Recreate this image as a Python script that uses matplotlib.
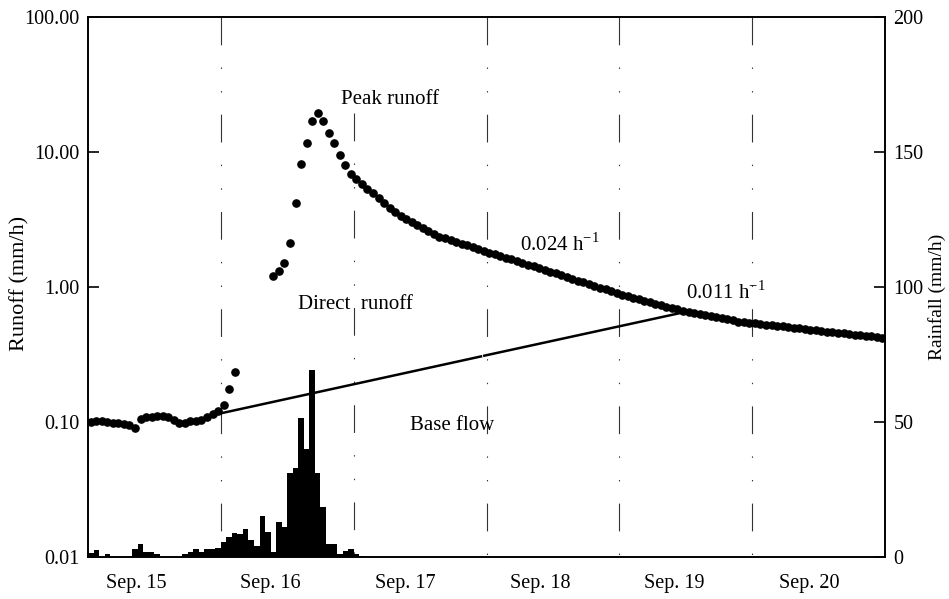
import numpy as np
import matplotlib
matplotlib.use('Agg')
import matplotlib.pyplot as plt

plt.rcParams['font.family'] = 'Liberation Serif'
plt.rcParams['mathtext.fontset'] = 'custom'
plt.rcParams['mathtext.rm'] = 'Liberation Serif'
plt.rcParams['lines.scale_dashes'] = False

nan = np.nan

# hourly runoff (mm/h), hour 0 = left edge of the plot
runoff = [
    0.100, 0.101, 0.101, 0.100, 0.099, 0.098, 0.097, 0.095, 0.091, 0.105,
    0.108, 0.108, 0.110, 0.110, 0.109, 0.104, 0.099, 0.099, 0.101, 0.102,
    0.104, 0.108, 0.114, 0.120, 0.134, 0.176, 0.236, nan, nan, nan,
    nan, nan, nan, 1.20, 1.32, 1.51, 2.13, 4.16, 8.1, 11.7,
    17.0, 19.5, 17.0, 13.8, 11.6, 9.5, 8.0, 6.9, 6.3, 5.79,
    5.34, 4.93, 4.55, 4.20, 3.87, 3.58, 3.38, 3.21, 3.05, 2.90,
    2.75, 2.62, 2.49, 2.36, 2.29, 2.23, 2.16, 2.10, 2.03, 1.97,
    1.92, 1.86, 1.80, 1.75, 1.70, 1.65, 1.60, 1.55, 1.51, 1.46,
    1.42, 1.38, 1.34, 1.30, 1.26, 1.22, 1.18, 1.15, 1.11, 1.08,
    1.05, 1.02, 0.99, 0.96, 0.93, 0.90, 0.872, 0.852, 0.830, 0.811,
    0.792, 0.772, 0.753, 0.734, 0.717, 0.699, 0.682, 0.665, 0.652, 0.641,
    0.629, 0.618, 0.607, 0.596, 0.586, 0.575, 0.566, 0.555, 0.548, 0.543,
    0.538, 0.531, 0.526, 0.520, 0.515, 0.510, 0.504, 0.499, 0.494, 0.489,
    0.484, 0.478, 0.473, 0.468, 0.463, 0.459, 0.453, 0.449, 0.444, 0.440,
    0.435, 0.430, 0.425, 0.421]

# hourly rainfall (mm/h)
rain = [
    1.5, 2.5, 0, 1.1, 0, 0, 0, 0, 3.1, 5.0,
    1.9, 1.9, 1.2, 0, 0, 0, 0, 1.0, 1.9, 2.8,
    1.9, 3.1, 3.0, 3.3, 5.5, 7.5, 9.0, 8.7, 10.4, 6.3,
    4.1, 15.2, 9.4, 2.0, 12.8, 11.0, 31.0, 32.8, 51.6, 39.9,
    69.3, 31.0, 18.6, 4.8, 4.8, 1.1, 2.3, 2.8, 1.1, 0.5]

# separated base flow line (two pieces, small break in the original)
base_t1 = [24.0, 71.0]
base_q1 = [0.116, 0.306]
base_t2 = [71.6, 108.1]
base_q2 = [0.310, 0.656]

day_labels = ['Sep. 15', 'Sep. 16', 'Sep. 17', 'Sep. 18', 'Sep. 19', 'Sep. 20']
day_lines = [24, 48, 72, 96, 120]

t_run = np.arange(len(runoff)) + 0.5
t_rain = np.arange(len(rain)) + 0.5

fig = plt.figure(figsize=(9.49, 5.99), dpi=100)
ax = fig.add_axes([0.0927, 0.0701, 0.8399, 0.9015])
ax2 = ax.twinx()

ax.set_yscale('log')
ax.set_ylim(0.01, 100)
ax.set_xlim(0, 144)
ax2.set_ylim(0, 200)

# day boundaries, dash-dot-dot
for d in day_lines:
    top = 0.822 if d == 48 else 1.0
    ax.plot([d, d], [top, 0], transform=ax.get_xaxis_transform(), color='#333333',
            lw=0.8, linestyle=(0, (20, 16, 1, 16, 1, 16)), zorder=1)

ax.plot(base_t1, base_q1, color='black', lw=1.8, zorder=2)
ax.plot(base_t2, base_q2, color='black', lw=1.8, zorder=2)
ax.plot(t_run, runoff, 'o', color='black', markersize=5.2, zorder=3)

ax2.bar(t_rain, rain, width=1.0, color='black', align='center', zorder=2)

ax.set_yticks([0.01, 0.1, 1, 10, 100])
ax.set_yticklabels(['0.01', '0.10', '1.00', '10.00', '100.00'])
ax.yaxis.set_minor_locator(matplotlib.ticker.NullLocator())
ax.tick_params(axis='y', direction='in', length=8, width=1.2, labelsize=14.5, pad=6)
ax2.set_yticks([0, 50, 100, 150, 200])
ax2.tick_params(axis='y', direction='in', length=8, width=1.2, labelsize=14.5, pad=6)

ax.set_xticks([8.7, 33.0, 57.4, 81.7, 106.0, 130.3])
ax.set_xticklabels(day_labels)
ax.tick_params(axis='x', length=0, labelsize=14.5, pad=12)

for a in (ax, ax2):
    for s in a.spines.values():
        s.set_linewidth(1.2)

ax.set_ylabel('Runoff (mm/h)', fontsize=16)
ax.yaxis.set_label_coords(-0.074, 0.507)
ax2.set_ylabel('Rainfall (mm/h)', fontsize=14)
ax2.yaxis.set_label_coords(1.054, 0.481)

ax.text(45.7, 24.3, 'Peak runoff', fontsize=15, ha='left', va='center')
ax.text(37.9, 0.736, 'Direct  runoff', fontsize=15, ha='left', va='center')
ax.text(58.1, 0.095, 'Base flow', fontsize=15, ha='left', va='center')
ax.text(78.0, 2.05, r'0.024 h$^{-1}$', fontsize=15, ha='left', va='center')
ax.text(108.0, 0.918, r'0.011 h$^{-1}$', fontsize=15, ha='left', va='center')

fig.savefig('out.png', dpi=100)
